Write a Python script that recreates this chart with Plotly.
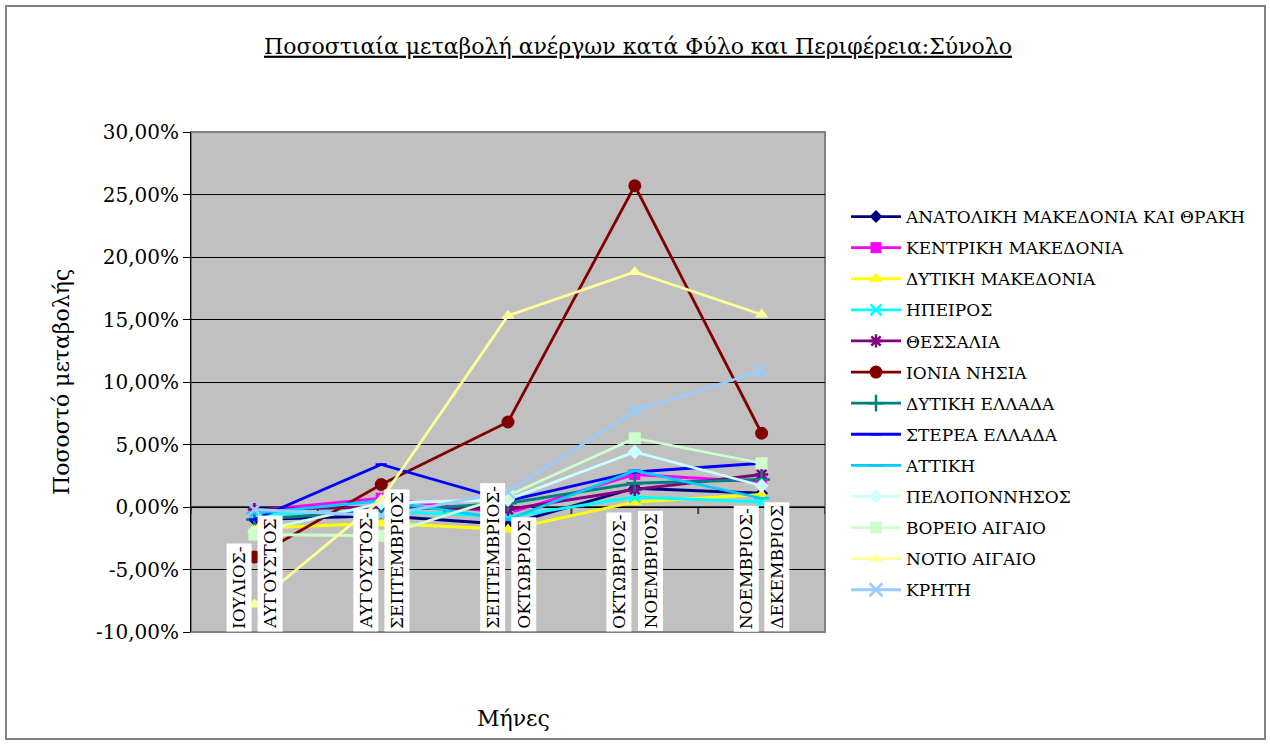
import plotly.graph_objects as go

# ---------------- data ----------------
categories = ["ΙΟΥΛΙΟΣ-ΑΥΓΟΥΣΤΟΣ", "ΑΥΓΟΥΣΤΟΣ-ΣΕΠΤΕΜΒΡΙΟΣ", "ΣΕΠΤΕΜΒΡΙΟΣ-ΟΚΤΩΒΡΙΟΣ",
              "ΟΚΤΩΒΡΙΟΣ-ΝΟΕΜΒΡΙΟΣ", "ΝΟΕΜΒΡΙΟΣ-ΔΕΚΕΜΒΡΙΟΣ"]

series_names = ["ΑΝΑΤΟΛΙΚΗ ΜΑΚΕΔΟΝΙΑ ΚΑΙ ΘΡΑΚΗ", "ΚΕΝΤΡΙΚΗ ΜΑΚΕΔΟΝΙΑ", "ΔΥΤΙΚΗ ΜΑΚΕΔΟΝΙΑ",
                "ΗΠΕΙΡΟΣ", "ΘΕΣΣΑΛΙΑ", "ΙΟΝΙΑ ΝΗΣΙΑ", "ΔΥΤΙΚΗ ΕΛΛΑΔΑ", "ΣΤΕΡΕΑ ΕΛΛΑΔΑ",
                "ΑΤΤΙΚΗ", "ΠΕΛΟΠΟΝΝΗΣΟΣ", "ΒΟΡΕΙΟ ΑΙΓΑΙΟ", "ΝΟΤΙΟ ΑΙΓΑΙΟ", "ΚΡΗΤΗ"]

# values in percent
anatoliki_makedonia_thraki = [-1.0, -0.7, -1.4, 1.5, 1.1]
kentriki_makedonia = [-0.3, 0.7, -0.5, 2.6, 2.0]
dytiki_makedonia = [-1.7, -1.3, -1.8, 0.4, 1.0]
ipeiros = [-0.6, -0.3, -0.8, 0.8, 0.4]
thessalia = [-0.2, 0.0, -0.2, 1.4, 2.6]
ionia_nisia = [-4.0, 1.8, 6.8, 25.7, 5.9]
dytiki_ellada = [-1.0, -0.3, 0.3, 1.9, 2.2]
sterea_ellada = [-1.0, 3.4, 0.5, 2.8, 3.5]
attiki = [-0.5, 0.5, -1.0, 2.9, 0.7]
peloponnisos = [-2.0, 0.3, 0.6, 4.4, 1.7]
voreio_aigaio = [-2.2, -2.3, 0.9, 5.5, 3.5]
notio_aigaio = [-7.8, 0.6, 15.3, 18.8, 15.4]
kriti = [-0.2, -0.7, 1.2, 7.7, 10.9]

y_tick_values = [-10, -5, 0, 5, 10, 15, 20, 25, 30]
y_tick_labels = ["-10,00%", "-5,00%", "0,00%", "5,00%", "10,00%", "15,00%", "20,00%", "25,00%", "30,00%"]

title_text = "Ποσοστιαία μεταβολή ανέργων κατά Φύλο και Περιφέρεια:Σύνολο"
y_title = "Ποσοστό μεταβολής"
x_title = "Μήνες"

all_values = [anatoliki_makedonia_thraki, kentriki_makedonia, dytiki_makedonia, ipeiros,
              thessalia, ionia_nisia, dytiki_ellada, sterea_ellada, attiki, peloponnisos,
              voreio_aigaio, notio_aigaio, kriti]

# ---------------- styles ----------------
colors = ["#000080", "#FF00FF", "#FFFF00", "#00FFFF", "#800080", "#800000", "#008080",
          "#0000FF", "#00CCFF", "#CCFFFF", "#CCFFCC", "#FFFF99", "#99CCFF"]
symbols = ["diamond", "square", "triangle-up", "x-thin-open", "asterisk-open", "circle",
           "cross-thin-open", "line-ew-open", "line-ew-open", "diamond", "square",
           "triangle-up", "x-thin-open"]
sizes = [10, 11, 12, 11, 11, 13, 12, 8, 11, 11, 12, 12, 13]

FONT = "DejaVu Serif"
W, H = 1270, 745
L, R, T, B = 191, 825, 132, 632  # plot area pixel box


def px_to_paper_x(px):
    return (px - L) / (R - L)


def px_to_paper_y(py):
    return (B - py) / (B - T)


fig = go.Figure()
for name, vals, col, sym, sz in zip(series_names, all_values, colors, symbols, sizes):
    open_sym = sym.endswith("open")
    fig.add_trace(go.Scatter(
        x=categories, y=vals, name=name, mode="lines+markers",
        line=dict(color=col, width=2.8),
        marker=dict(symbol=sym, size=sz, color=col,
                    line=dict(color=col, width=2.5 if open_sym else 0)),
        legendgroup=name,
    ))

# category labels (rotated, white boxes)
annotations = []
for i, cat in enumerate(categories):
    first, second = cat.split("-", 1)
    for text, dx in ((first + "-", -0.125), (second, 0.12)):
        annotations.append(dict(
            x=i + dx, y=0, xref="x", yref="paper", text=text, showarrow=False,
            textangle=-90, xanchor="center", yanchor="bottom",
            font=dict(family=FONT, size=17, color="black"),
            bgcolor="white", borderpad=2,
        ))

annotations.append(dict(x=px_to_paper_x(513), y=px_to_paper_y(718), xref="paper", yref="paper",
                        text=x_title, showarrow=False, xanchor="center", yanchor="middle",
                        font=dict(family=FONT, size=22, color="black")))
annotations.append(dict(x=px_to_paper_x(61), y=px_to_paper_y(382), xref="paper", yref="paper",
                        text=y_title, showarrow=False, textangle=-90, xanchor="center",
                        yanchor="middle", font=dict(family=FONT, size=22, color="black")))

shapes = []
# outer chart border
shapes.append(dict(type="rect", xref="paper", yref="paper",
                   x0=px_to_paper_x(6), x1=px_to_paper_x(1265),
                   y0=px_to_paper_y(739), y1=px_to_paper_y(6),
                   line=dict(color="#808080", width=2), layer="below"))
# plot area border
shapes.append(dict(type="rect", xref="paper", yref="paper", x0=0, x1=1, y0=0, y1=1,
                   line=dict(color="#808080", width=2), layer="below"))
# category axis at y = 0 with boundary ticks
shapes.append(dict(type="line", xref="paper", yref="y", x0=0, x1=1, y0=0, y1=0,
                   line=dict(color="#404040", width=2), layer="below"))
for k in range(len(categories) + 1):
    shapes.append(dict(type="line", xref="x", yref="y", ysizemode="pixel", yanchor=0,
                       x0=k - 0.5, x1=k - 0.5, y0=0, y1=-7,
                       line=dict(color="#404040", width=2), layer="below"))

fig.update_layout(
    width=W, height=H,
    margin=dict(l=L, r=W - R, t=T, b=H - B, autoexpand=False),
    paper_bgcolor="white", plot_bgcolor="#C0C0C0",
    title=dict(text="<u>" + title_text + "</u>", x=px_to_paper_x(638), xref="paper",
               xanchor="center", y=1 - 46 / H, yanchor="middle",
               font=dict(family=FONT, size=22, color="black")),
    showlegend=True,
    legend=dict(x=px_to_paper_x(846), y=px_to_paper_y(199), xanchor="left", yanchor="top",
                font=dict(family=FONT, size=17, color="black"), bgcolor="rgba(0,0,0,0)",
                tracegroupgap=6, itemwidth=50),
    annotations=annotations, shapes=shapes,
)
fig.update_xaxes(type="category", range=[-0.5, len(categories) - 0.5], showticklabels=False,
                 showgrid=False, zeroline=False, showline=False, ticks="")
fig.update_yaxes(range=[-10, 30], tickvals=y_tick_values, ticktext=y_tick_labels,
                 showgrid=True, gridcolor="black", gridwidth=1, zeroline=False,
                 showline=True, linecolor="black", linewidth=1, ticks="outside",
                 ticklen=7, tickcolor="black", tickfont=dict(family=FONT, size=20, color="black"))

fig.write_html("out.html", post_script="document.body.style.margin='0';",
               config={"displayModeBar": False})
